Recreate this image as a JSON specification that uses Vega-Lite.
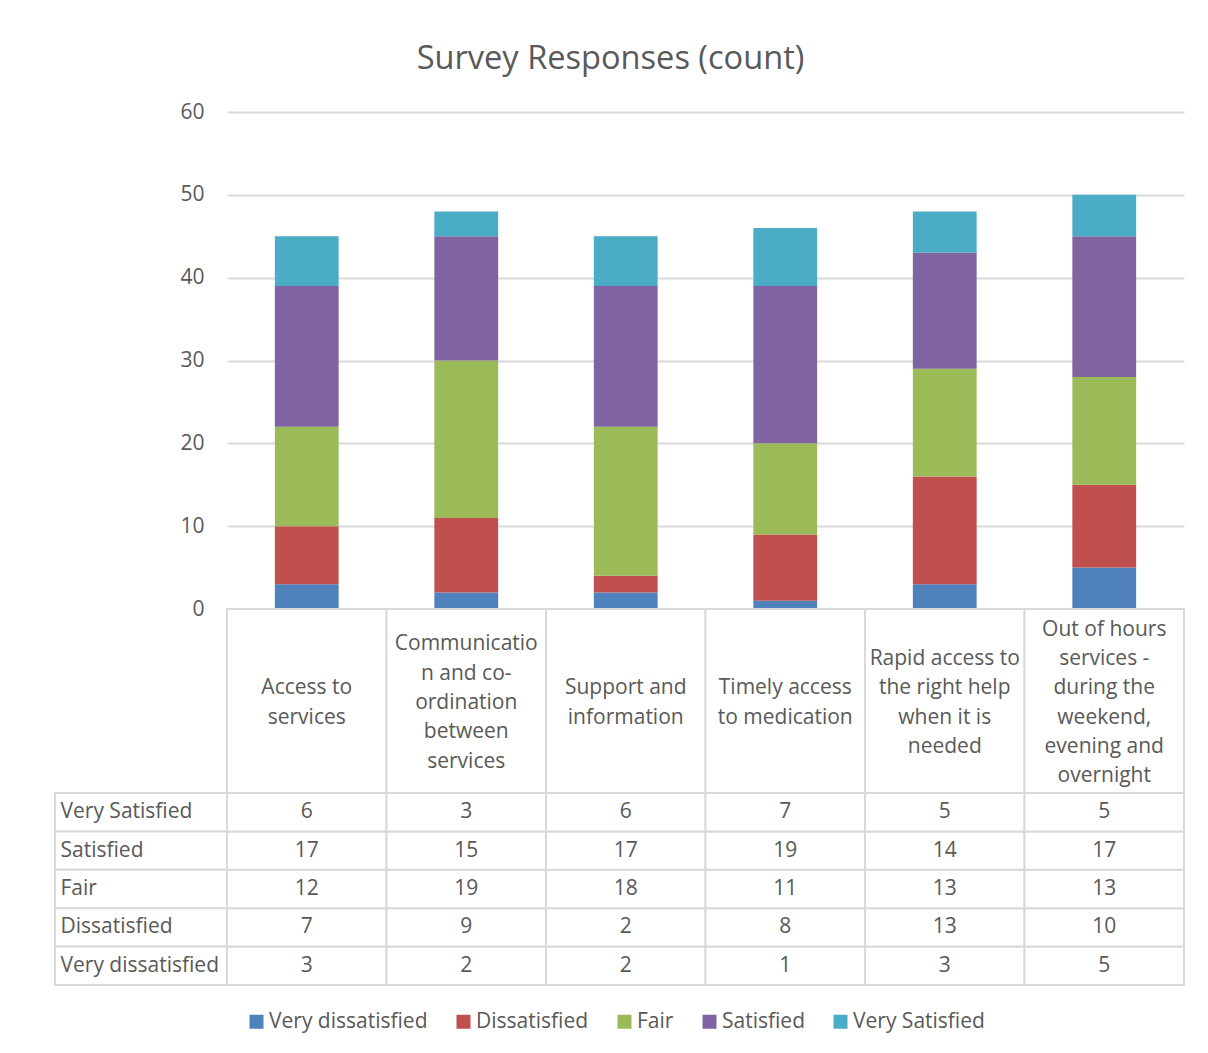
{
  "$schema": "https://vega.github.io/schema/vega-lite/v6.json",
  "background": "white",
  "padding": {"left": 54, "top": 43, "right": 24, "bottom": 10},
  "title": {"text": "Survey Responses (count)", "anchor": "middle", "fontSize": 32.6, "font": "Open Sans", "fontWeight": "normal", "color": "#595959", "dx": -9, "offset": 25},
  "datasets": {
    "survey": [
      {"category": "Access to services", "response": "Very dissatisfied", "level": 1, "count": 3},
      {"category": "Access to services", "response": "Dissatisfied", "level": 2, "count": 7},
      {"category": "Access to services", "response": "Fair", "level": 3, "count": 12},
      {"category": "Access to services", "response": "Satisfied", "level": 4, "count": 17},
      {"category": "Access to services", "response": "Very Satisfied", "level": 5, "count": 6},
      {"category": "Communication and co-ordination between services", "response": "Very dissatisfied", "level": 1, "count": 2},
      {"category": "Communication and co-ordination between services", "response": "Dissatisfied", "level": 2, "count": 9},
      {"category": "Communication and co-ordination between services", "response": "Fair", "level": 3, "count": 19},
      {"category": "Communication and co-ordination between services", "response": "Satisfied", "level": 4, "count": 15},
      {"category": "Communication and co-ordination between services", "response": "Very Satisfied", "level": 5, "count": 3},
      {"category": "Support and information", "response": "Very dissatisfied", "level": 1, "count": 2},
      {"category": "Support and information", "response": "Dissatisfied", "level": 2, "count": 2},
      {"category": "Support and information", "response": "Fair", "level": 3, "count": 18},
      {"category": "Support and information", "response": "Satisfied", "level": 4, "count": 17},
      {"category": "Support and information", "response": "Very Satisfied", "level": 5, "count": 6},
      {"category": "Timely access to medication", "response": "Very dissatisfied", "level": 1, "count": 1},
      {"category": "Timely access to medication", "response": "Dissatisfied", "level": 2, "count": 8},
      {"category": "Timely access to medication", "response": "Fair", "level": 3, "count": 11},
      {"category": "Timely access to medication", "response": "Satisfied", "level": 4, "count": 19},
      {"category": "Timely access to medication", "response": "Very Satisfied", "level": 5, "count": 7},
      {"category": "Rapid access to the right help when it is needed", "response": "Very dissatisfied", "level": 1, "count": 3},
      {"category": "Rapid access to the right help when it is needed", "response": "Dissatisfied", "level": 2, "count": 13},
      {"category": "Rapid access to the right help when it is needed", "response": "Fair", "level": 3, "count": 13},
      {"category": "Rapid access to the right help when it is needed", "response": "Satisfied", "level": 4, "count": 14},
      {"category": "Rapid access to the right help when it is needed", "response": "Very Satisfied", "level": 5, "count": 5},
      {"category": "Out of hours services - during the weekend, evening and overnight", "response": "Very dissatisfied", "level": 1, "count": 5},
      {"category": "Out of hours services - during the weekend, evening and overnight", "response": "Dissatisfied", "level": 2, "count": 10},
      {"category": "Out of hours services - during the weekend, evening and overnight", "response": "Fair", "level": 3, "count": 13},
      {"category": "Out of hours services - during the weekend, evening and overnight", "response": "Satisfied", "level": 4, "count": 17},
      {"category": "Out of hours services - during the weekend, evening and overnight", "response": "Very Satisfied", "level": 5, "count": 5}
    ],
    "headers": [
      {"category": "Access to services", "label": "Access to\nservices"},
      {"category": "Communication and co-ordination between services", "label": "Communicatio\nn and co-\nordination\nbetween\nservices"},
      {"category": "Support and information", "label": "Support and\ninformation"},
      {"category": "Timely access to medication", "label": "Timely access\nto medication"},
      {"category": "Rapid access to the right help when it is needed", "label": "Rapid access to\nthe right help\nwhen it is\nneeded"},
      {"category": "Out of hours services - during the weekend, evening and overnight", "label": "Out of hours\nservices -\nduring the\nweekend,\nevening and\novernight"}
    ],
    "rows": [
      {"response": "Very Satisfied"},
      {"response": "Satisfied"},
      {"response": "Fair"},
      {"response": "Dissatisfied"},
      {"response": "Very dissatisfied"}
    ]
  },
  "columns": 2,
  "spacing": 0,
  "bounds": "flush",
  "concat": [
    {"width": 172, "height": 497, "data": {"values": []}, "mark": "point"},
    {
      "width": 957,
      "height": 497,
      "data": {"name": "survey"},
      "mark": {"type": "bar"},
      "encoding": {
        "x": {"field": "category", "type": "nominal", "sort": ["Access to services", "Communication and co-ordination between services", "Support and information", "Timely access to medication", "Rapid access to the right help when it is needed", "Out of hours services - during the weekend, evening and overnight"], "scale": {"paddingInner": 0.6, "paddingOuter": 0.3}, "axis": null},
        "y": {"field": "count", "type": "quantitative", "stack": "zero", "scale": {"domain": [0, 60], "nice": false}, "axis": {"values": [0, 10, 20, 30, 40, 50, 60], "title": null, "domain": false, "ticks": false, "labelPadding": 23, "grid": true, "gridColor": "#d9d9d9", "gridWidth": 2}},
        "color": {
          "field": "response",
          "type": "nominal",
          "sort": ["Very dissatisfied", "Dissatisfied", "Fair", "Satisfied", "Very Satisfied"],
          "scale": {"domain": ["Very dissatisfied", "Dissatisfied", "Fair", "Satisfied", "Very Satisfied"], "range": ["#4F81BD", "#C0504D", "#9BBB59", "#8064A2", "#4BACC6"]},
          "legend": {"orient": "none", "legendX": 191, "legendY": 899, "direction": "horizontal", "title": null, "symbolType": "square", "symbolSize": 196, "symbolStrokeWidth": 0, "labelFontSize": 21, "labelColor": "#595959", "labelFont": "Open Sans", "columnPadding": 25, "labelOffset": 2, "padding": 0}
        },
        "order": {"field": "level", "type": "quantitative", "sort": "ascending"}
      }
    },
    {"width": 172, "height": 184, "data": {"values": []}, "mark": "point"},
    {
      "width": 957,
      "height": 184,
      "data": {"name": "headers"},
      "encoding": {
        "x": {"field": "category", "type": "nominal", "sort": ["Access to services", "Communication and co-ordination between services", "Support and information", "Timely access to medication", "Rapid access to the right help when it is needed", "Out of hours services - during the weekend, evening and overnight"], "scale": {"paddingInner": 0, "paddingOuter": 0}, "axis": null},
        "text": {"field": "label"}
      },
      "layer": [
        {"mark": {"type": "rect", "fill": "white", "stroke": "#d9d9d9", "strokeWidth": 2}, "encoding": {"text": null}},
        {
          "transform": [{"filter": {"field": "category", "oneOf": ["Access to services", "Support and information", "Timely access to medication"]}}],
          "mark": {"type": "text", "fontSize": 21, "lineBreak": "\n", "lineHeight": 29.3, "color": "#595959", "font": "Open Sans", "align": "center", "baseline": "middle", "dy": -12.65}
        },
        {
          "transform": [{"filter": {"field": "category", "equal": "Rapid access to the right help when it is needed"}}],
          "mark": {"type": "text", "fontSize": 21, "lineBreak": "\n", "lineHeight": 29.3, "color": "#595959", "font": "Open Sans", "align": "center", "baseline": "middle", "dy": -41.95}
        },
        {
          "transform": [{"filter": {"field": "category", "equal": "Communication and co-ordination between services"}}],
          "mark": {"type": "text", "fontSize": 21, "lineBreak": "\n", "lineHeight": 29.3, "color": "#595959", "font": "Open Sans", "align": "center", "baseline": "middle", "dy": -56.6}
        },
        {
          "transform": [{"filter": {"field": "category", "equal": "Out of hours services - during the weekend, evening and overnight"}}],
          "mark": {"type": "text", "fontSize": 21, "lineBreak": "\n", "lineHeight": 29.3, "color": "#595959", "font": "Open Sans", "align": "center", "baseline": "middle", "dy": -71.25}
        }
      ]
    },
    {
      "width": 172,
      "height": 192,
      "data": {"name": "rows"},
      "mark": {"type": "rect", "fill": "white", "stroke": "#d9d9d9", "strokeWidth": 2},
      "encoding": {
        "y": {"field": "response", "type": "nominal", "sort": ["Very Satisfied", "Satisfied", "Fair", "Dissatisfied", "Very dissatisfied"], "scale": {"paddingInner": 0, "paddingOuter": 0}, "axis": {"title": null, "orient": "left", "labelAlign": "left", "labelPadding": -5, "ticks": false, "domain": false, "grid": false, "labelFontSize": 21, "labelColor": "#595959", "labelFont": "Open Sans", "zindex": 1}}
      }
    },
    {
      "width": 957,
      "height": 192,
      "data": {"name": "survey"},
      "encoding": {
        "x": {"field": "category", "type": "nominal", "sort": ["Access to services", "Communication and co-ordination between services", "Support and information", "Timely access to medication", "Rapid access to the right help when it is needed", "Out of hours services - during the weekend, evening and overnight"], "scale": {"paddingInner": 0, "paddingOuter": 0}, "axis": null},
        "y": {"field": "response", "type": "nominal", "sort": ["Very Satisfied", "Satisfied", "Fair", "Dissatisfied", "Very dissatisfied"], "scale": {"paddingInner": 0, "paddingOuter": 0}, "axis": null}
      },
      "layer": [
        {"mark": {"type": "rect", "fill": "white", "stroke": "#d9d9d9", "strokeWidth": 2}},
        {"mark": {"type": "text", "fontSize": 21, "color": "#595959", "font": "Open Sans", "align": "center", "baseline": "middle"}, "encoding": {"text": {"field": "count", "type": "quantitative"}}}
      ]
    }
  ],
  "resolve": {"scale": {"color": "shared"}, "legend": {"color": "shared"}},
  "config": {
    "view": {"stroke": null},
    "font": "Open Sans",
    "axis": {"labelFont": "Open Sans", "labelFontSize": 21, "labelColor": "#595959"}
  }
}
